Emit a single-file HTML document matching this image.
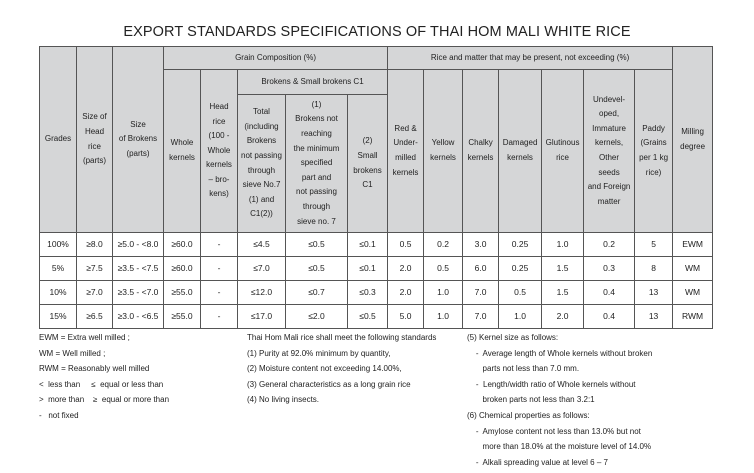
<!DOCTYPE html>
<html><head><meta charset="utf-8"><style>
body{margin:0;width:754px;height:473px;background:#fff;font-family:"Liberation Sans",sans-serif;color:#222;position:relative;overflow:hidden}
.title{position:absolute;left:0;width:754px;top:24px;text-align:center;font-size:14.5px;color:#222;letter-spacing:0.1px}
table{position:absolute;left:39px;top:46px;border-collapse:collapse;table-layout:fixed;width:674px}
td{border:1px solid #555;text-align:center;vertical-align:middle;font-size:8px;line-height:14.6px;padding:0;overflow:hidden}
tr.h td{background:#d5d6d7}
tr.d td{height:23px;font-size:8.5px}
.n{position:absolute;font-size:8px;line-height:15.6px;color:#222;white-space:pre}
</style></head><body>
<div class="title">EXPORT STANDARDS SPECIFICATIONS OF THAI HOM MALI WHITE RICE</div>
<table>
<colgroup><col style="width:37px"><col style="width:36px"><col style="width:51px"><col style="width:37px"><col style="width:37px"><col style="width:48px"><col style="width:62px"><col style="width:40px"><col style="width:36px"><col style="width:39px"><col style="width:36px"><col style="width:43px"><col style="width:42px"><col style="width:51px"><col style="width:38px"><col style="width:40px"></colgroup>
<tr class="h" style="height:23px"><td rowspan="3">Grades</td><td rowspan="3">Size of<br>Head<br>rice<br>(parts)</td><td rowspan="3">Size<br>of Brokens<br>(parts)</td><td colspan="5">Grain Composition (%)</td><td colspan="7">Rice and matter that may be present, not exceeding (%)</td><td rowspan="3">Milling<br>degree</td></tr>
<tr class="h" style="height:25px"><td rowspan="2">Whole<br>kernels</td><td rowspan="2">Head<br>rice<br>(100 -<br>Whole<br>kernels<br>– bro-<br>kens)</td><td colspan="3">Brokens &amp; Small brokens C1</td><td rowspan="2">Red &amp;<br>Under-<br>milled<br>kernels</td><td rowspan="2">Yellow<br>kernels</td><td rowspan="2">Chalky<br>kernels</td><td rowspan="2">Damaged<br>kernels</td><td rowspan="2">Glutinous<br>rice</td><td rowspan="2">Undevel-<br>oped,<br>Immature<br>kernels,<br>Other<br>seeds<br>and Foreign<br>matter</td><td rowspan="2">Paddy<br>(Grains<br>per 1 kg<br>rice)</td></tr>
<tr class="h" style="height:138px"><td>Total<br>(including<br>Brokens<br>not passing<br>through<br>sieve No.7<br>(1) and<br>C1(2))</td><td>(1)<br>Brokens not<br>reaching<br>the minimum<br>specified<br>part and<br>not passing<br>through<br>sieve no. 7</td><td>(2)<br>Small<br>brokens<br>C1</td></tr>
<tr class="d"><td>100%</td><td>≥8.0</td><td>≥5.0 - &lt;8.0</td><td>≥60.0</td><td>-</td><td>≤4.5</td><td>≤0.5</td><td>≤0.1</td><td>0.5</td><td>0.2</td><td>3.0</td><td>0.25</td><td>1.0</td><td>0.2</td><td>5</td><td>EWM</td></tr>
<tr class="d"><td>5%</td><td>≥7.5</td><td>≥3.5 - &lt;7.5</td><td>≥60.0</td><td>-</td><td>≤7.0</td><td>≤0.5</td><td>≤0.1</td><td>2.0</td><td>0.5</td><td>6.0</td><td>0.25</td><td>1.5</td><td>0.3</td><td>8</td><td>WM</td></tr>
<tr class="d"><td>10%</td><td>≥7.0</td><td>≥3.5 - &lt;7.0</td><td>≥55.0</td><td>-</td><td>≤12.0</td><td>≤0.7</td><td>≤0.3</td><td>2.0</td><td>1.0</td><td>7.0</td><td>0.5</td><td>1.5</td><td>0.4</td><td>13</td><td>WM</td></tr>
<tr class="d"><td>15%</td><td>≥6.5</td><td>≥3.0 - &lt;6.5</td><td>≥55.0</td><td>-</td><td>≤17.0</td><td>≤2.0</td><td>≤0.5</td><td>5.0</td><td>1.0</td><td>7.0</td><td>1.0</td><td>2.0</td><td>0.4</td><td>13</td><td>RWM</td></tr>
</table>
<div class="n" style="left:39px;top:330px">EWM = Extra well milled ;
WM = Well milled ;
RWM = Reasonably well milled
&lt;  less than     ≤  equal or less than
&gt;  more than    ≥  equal or more than
-   not fixed</div>
<div class="n" style="left:247px;top:330px">Thai Hom Mali rice shall meet the following standards
(1) Purity at 92.0% minimum by quantity,
(2) Moisture content not exceeding 14.00%,
(3) General characteristics as a long grain rice
(4) No living insects.</div>
<div class="n" style="left:467px;top:330px">(5) Kernel size as follows:
    -  Average length of Whole kernels without broken
       parts not less than 7.0 mm.
    -  Length/width ratio of Whole kernels without
       broken parts not less than 3.2:1
(6) Chemical properties as follows:
    -  Amylose content not less than 13.0% but not
       more than 18.0% at the moisture level of 14.0%
    -  Alkali spreading value at level 6 – 7</div>
</body></html>
